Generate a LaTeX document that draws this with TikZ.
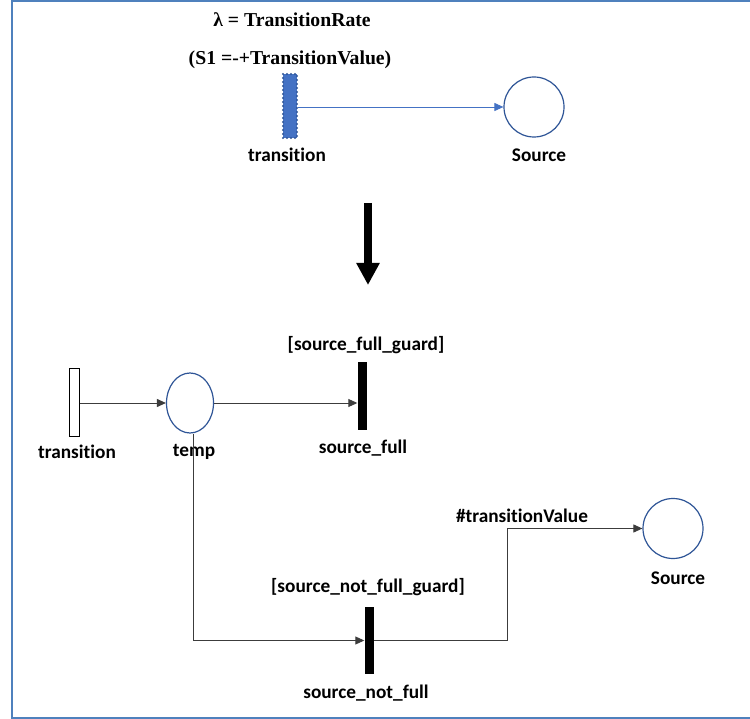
\documentclass[tikz,border=0pt]{standalone}
\usepackage{fontspec}
\setmainfont{Liberation Serif}
\newfontfamily\labfont[Ligatures=NoCommon]{Carlito}
\usetikzlibrary{arrows.meta}
\definecolor{frameblue}{RGB}{79,129,189}
\definecolor{placeblue}{RGB}{47,85,151}
\definecolor{fillblue}{RGB}{68,114,196}
\definecolor{linegray}{RGB}{60,60,60}
\tikzset{
  lbl/.style={font=\labfont\bfseries\fontsize{19.3}{22}\selectfont, inner sep=0pt},
  ttl/.style={font=\bfseries\fontsize{19.7}{23}\selectfont, inner sep=0pt},
  place/.style={draw=placeblue, line width=1.2pt, circle, minimum size=60pt, inner sep=0pt},
  placeell/.style={draw=placeblue, line width=1.2pt, ellipse, minimum width=47pt, minimum height=60pt, inner sep=0pt},
  bar/.style={fill=black, draw=none, minimum width=9pt, minimum height=67pt, inner sep=0pt},
  openbar/.style={fill=white, draw=black, line width=1pt, minimum width=10pt, minimum height=67pt, inner sep=0pt},
  dottrans/.style={fill=fillblue, draw=placeblue, dash pattern=on 0pt off 4pt, line cap=round, line width=2.4pt, minimum width=14pt, minimum height=64pt, inner sep=0pt},
  arc/.style={draw=linegray, line width=0.9pt, -{Triangle[length=9pt,width=8pt]}},
  bluearc/.style={draw=fillblue, line width=0.9pt, -{Triangle[length=9pt,width=8pt]}},
}
\usetikzlibrary{shapes.geometric}
\begin{document}
\begin{tikzpicture}[x=1pt,y=-1pt]
\useasboundingbox (0,0) rectangle (750,719);
\fill[white] (0,0) rectangle (750,719);
% frame
\draw[frameblue, line width=2pt] (765,1) -- (12,1) -- (12,718) -- (765,718);

% top part
\node[ttl] (rate) at (292,20) {λ = TransitionRate};
\node[ttl] (sval) at (290,60) {(S1 =-+TransitionValue)};
\node[dottrans] (t0) at (290,106) {};
\node[place] (src0) at (534,107) {};
\node[lbl] (t0l) at (287,155) {transition};
\node[lbl] (src0l) at (539,155) {Source};
\draw[bluearc] (t0.east |- src0.west) -- (src0.west);

% big arrow
\coordinate (bigA) at (368,203);
\coordinate (bigB) at (368,285);
\draw[line width=8pt, -{Triangle[length=22pt,width=22pt]}] (bigA) -- (bigB);

% bottom part
\node[openbar] (t1) at (74,402.5) {};
\node[placeell] (temp) at (190,403) {};
\node[bar] (sf) at (362,396) {};
\node[lbl] (t1l) at (77,452) {transition};
\node[lbl] (templ) at (194,452) {temp};
\node[lbl] (sfg) at (366,345) {[source\_full\_guard]};
\node[lbl] (sfl) at (363,448) {source\_full};
\draw[arc] (t1.east |- temp.west) -- (temp.west);
\draw[arc] (temp.east) -- (temp.east -| sf.west);

\node[bar] (snf) at (369,640.5) {};
\node[lbl] (snfg) at (368,587) {[source\_not\_full\_guard]};
\node[lbl] (snfl) at (366,693) {source\_not\_full};
\node[place] (src1) at (673,528.5) {};
\node[lbl] (src1l) at (678,578) {Source};
\node[lbl] (tv) at (522,516) {\#transitionValue};

\draw[arc] ([xshift=3pt]temp.south) |- (snf.west);
\coordinate (bend) at (507,640.5);
\draw[arc] (snf.east) -- (bend) |- (src1.west);
\end{tikzpicture}
\end{document}
